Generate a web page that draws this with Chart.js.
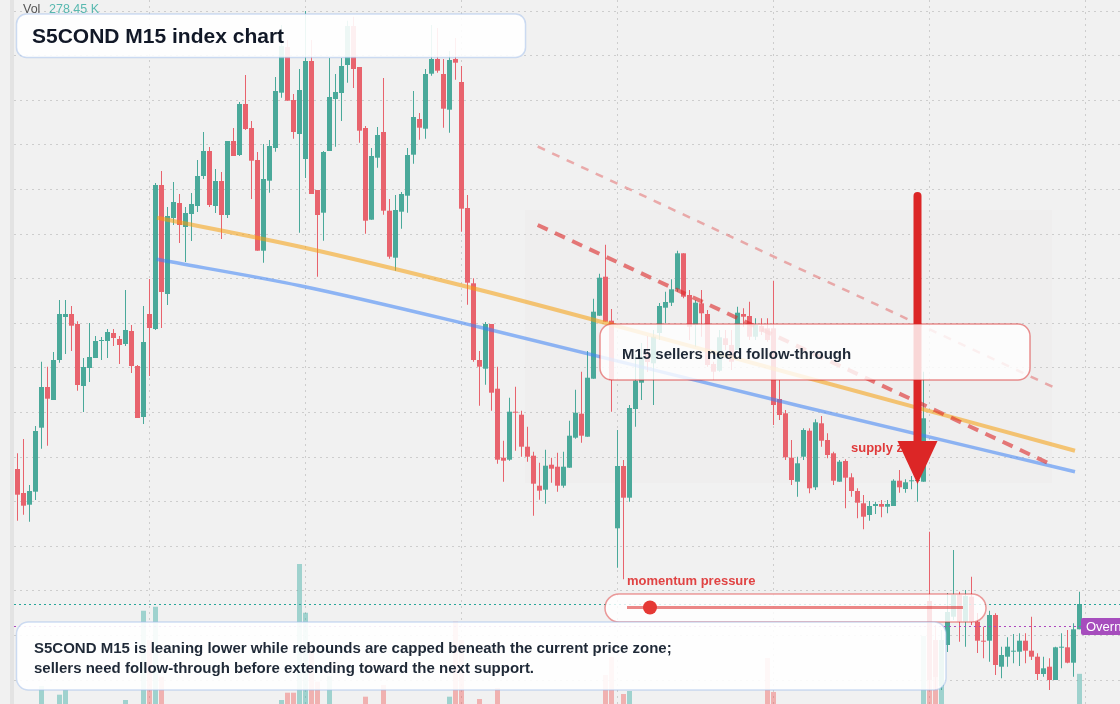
<!DOCTYPE html>
<html>
<head>
<meta charset="utf-8">
<title>S5COND M15 index chart</title>
<script src="https://cdn.jsdelivr.net/npm/chart.js@4/dist/chart.umd.min.js"></script>
<style>
  html, body { margin: 0; padding: 0; background: #f1f1f1; }
  #wrap { width: 1120px; height: 704px; }
</style>
</head>
<body>
<div id="wrap"><canvas id="chart" width="1120" height="704"></canvas></div>
<script>
/**
 * S5COND M15 - candles, volume and annotations drawn with Chart.js
 */

// ---- data (one entry per 15 minute candle) ----
const opens = [
    531, 507, 495.3, 508.3, 572.3, 613, 600, 640, 683, 686,
    676, 614, 632, 642, 659, 659, 667, 661, 656, 669,
    634, 583, 686, 671, 815, 706, 782, 797, 773, 786,
    794, 824, 849, 794, 819, 785, 859, 845, 896, 872,
    840, 749.3, 819.3, 852, 907.3, 953, 900, 866, 841, 939,
    810, 787.3, 849, 901, 907, 935, 974, 933, 872, 780.3,
    842.3, 868, 789.3, 742.3, 788.3, 804.3, 845.3, 881, 871.3, 926.3,
    941, 926, 890.3, 941, 918, 792, 716.7, 640, 631.3, 676,
    611.3, 542.3, 540.3, 588.3, 585.3, 553.3, 544.3, 514.3, 510.3, 535.3,
    533.3, 514.3, 532.3, 562.3, 586.3, 563.3, 621.3, 684.3, 723.3, 679.3,
    471.7, 534, 502.3, 591, 617.3, 648, 636.7, 667, 692.3, 697.3,
    710.7, 746.7, 705, 675, 696.7, 686, 636, 629.3, 661.7, 655,
    650, 686, 684, 663.3, 674, 671.7, 671.7, 601, 586.7, 542.3,
    518.3, 543.3, 569.3, 512.7, 576.7, 560, 546.7, 518.3, 539, 522.7,
    509, 496.7, 485, 494, 496, 493.3, 494, 519.3, 511, 518.7,
    519, 518.3, 399, 360, 314, 355, 383.3, 405, 378.3, 403.3,
    378.3, 359.3, 359.3, 385, 333.3, 343.3, 348.3, 348.3, 359.3, 349.3,
    343.3, 326, 333.3, 320, 352.3, 352.7, 337.3, 370.7
];
const highs = [
    546.7, 561, 515, 574, 638.3, 633.3, 648, 700, 700, 694,
    678.7, 642, 677, 664, 663, 671, 671, 664, 710, 675,
    635, 694, 721, 817, 829, 793, 818, 806, 793, 807,
    840, 868, 853, 831, 828, 859, 872, 898, 925, 879,
    848, 856, 860, 923, 975, 960, 906, 931, 989, 960,
    810, 849, 942, 926, 942, 979.3, 983.3, 933, 874, 852,
    873, 922, 801, 805, 808, 852, 909, 887, 931, 975,
    972, 941, 949, 962, 934, 805, 721.7, 649, 678, 676,
    633.3, 559.3, 602.3, 613.3, 589.3, 573.3, 548.3, 537.3, 550.3, 542.3,
    547.3, 548.3, 579.3, 610.3, 628.3, 649, 701.3, 726.3, 755.3, 691,
    570, 540, 595, 646, 657, 664, 670, 697, 708.3, 720.7,
    749.3, 746.7, 710, 700, 710, 690, 638.3, 670, 670, 670,
    693.3, 691.7, 698.3, 681.7, 681.7, 681.7, 719.3, 620, 590, 560,
    543.3, 571.7, 571.7, 580.7, 584, 566.7, 548.3, 540, 540.7, 526.7,
    511.7, 505, 499, 498.3, 500, 500, 520.7, 530, 520.7, 524,
    524, 628.3, 468.3, 375, 370, 407, 450, 408.3, 410, 423.3,
    387, 373.3, 389.3, 386.7, 353.3, 362.7, 366, 366.7, 366.7, 383.3,
    346.7, 343.3, 341.7, 353.3, 366.7, 370, 376.7, 408.3
];
const lows = [
    479.3, 485.3, 478.3, 500, 551.3, 554.3, 600, 637.3, 646, 649,
    609.3, 588, 618, 642, 640, 642, 654, 636, 654, 627,
    582, 576, 624, 670, 672, 695, 775, 757, 738, 759,
    788, 821, 793, 787, 761, 782, 844, 844, 870, 801,
    749.3, 737.3, 807.3, 848.3, 902.3, 899.3, 861.3, 767.3, 822, 806,
    723.3, 759.3, 849, 853.3, 879, 917.3, 912, 857.3, 766.3, 780.3,
    832.3, 785.3, 741.3, 729.3, 771.3, 787.3, 836.3, 860.3, 861.3, 924.3,
    927.3, 872.3, 867.3, 920.3, 768.3, 695.3, 638.3, 594.3, 615.3, 589.3,
    536.3, 518.3, 539.3, 549.3, 543.3, 538.3, 484.3, 500.3, 496.3, 517.3,
    508.3, 512.3, 532.3, 561.3, 557.3, 563.3, 621.3, 684.3, 678.3, 588.3,
    432.3, 420.7, 498.3, 573.3, 600, 628, 595, 660, 676.7, 694,
    708.3, 701.7, 660, 653.3, 663.3, 633.3, 620, 628.3, 650, 630,
    650, 673.3, 660, 660, 665, 658.3, 575, 580, 540, 515,
    503.3, 540, 506.7, 510, 553.3, 541.7, 515, 518.3, 491.7, 503.3,
    481.7, 470.7, 479.3, 486, 482.7, 486.7, 494, 507.3, 507.3, 510.7,
    498.3, 518.3, 310, 310, 310, 348, 380, 358.3, 353.3, 375,
    347, 341.7, 338.3, 325, 321.7, 333.3, 336.7, 334, 336.7, 340,
    320, 323.3, 310, 320, 331.7, 336.7, 323.3, 370.7
];
const closes = [
    505.3, 494.3, 509, 569, 613, 601.3, 640, 686, 686, 674.3,
    615, 633, 643, 659, 660, 668, 662, 655, 670, 634,
    582, 658, 672, 815, 708, 784, 798, 775, 787, 796,
    824, 849, 795, 819, 785, 859, 844, 896, 871, 839.3,
    749.3, 821, 854, 909, 954, 899.3, 868, 910, 939, 806,
    785, 848, 903, 908, 934, 974, 931, 869.3, 779.3, 844,
    865, 789.3, 743.3, 790, 806, 845, 883, 872.3, 926, 941,
    929.3, 891.3, 940, 937.3, 791.3, 717.3, 640, 633.3, 676, 607.3,
    540.3, 539.3, 588.3, 587.3, 553.3, 543.3, 516.3, 509.3, 534.3, 531.3,
    514.3, 533.3, 564.3, 587.3, 564.3, 622.3, 688.3, 722.3, 678.3, 620,
    534, 502.3, 592, 619.3, 643.3, 638, 663.3, 694, 698, 710.7,
    746.7, 703.3, 673.3, 697.3, 686.7, 635, 628.3, 662.7, 655, 638.3,
    687.3, 683.3, 663.3, 675, 668.3, 660, 595, 585, 542.7, 520,
    536.7, 570, 511.7, 577.7, 559.3, 545, 519.3, 538.3, 522.3, 509,
    497.3, 483.3, 494, 496, 493.3, 496, 519.3, 512.7, 517.7, 519.3,
    519.5, 581.7, 320, 323, 360, 388, 405, 378.3, 404, 378.3,
    359.3, 358.3, 385, 335, 345, 353.3, 349.3, 359.3, 349.3, 343.3,
    326, 331.7, 320, 352.7, 353.3, 337.3, 370.7, 396
];
// volume in thousands
const volumes = [
    182, 165, 148, 190, 246.8, 171, 158, 224.2, 236.4, 140,
    176, 132, 118, 96, 88, 104, 92, 110, 210.4, 126,
    185, 442.6, 366.4, 453, 271, 178, 150, 134, 122, 141,
    160, 155, 147, 128, 136, 172, 119, 163, 180, 152,
    188, 174, 139, 166, 210.4, 229.4, 229.4, 564, 437.4, 340.4,
    258, 161, 272.8, 129, 117, 150, 168, 176, 219, 143,
    121, 249.4, 186, 170, 131, 144, 159, 112, 137, 162,
    154, 173, 219, 414, 366.4, 189, 196, 213, 178, 184,
    241.6, 133, 146, 108, 127, 115, 158, 101, 124, 97,
    113, 106, 142, 138, 151, 167, 181, 175, 275.4, 322.2,
    194, 226, 233.8, 169, 148, 121, 134, 157, 145, 139,
    163, 171, 153, 126, 118, 177, 109, 123, 98, 131,
    140, 102, 128, 94, 111, 319.6, 231.2, 187, 164, 179,
    135, 149, 170, 156, 143, 125, 160, 114, 166, 137,
    148, 172, 119, 86, 92, 81, 153, 107, 99, 90,
    112, 376.8, 467.8, 366.4, 340, 193, 185, 162, 174, 188,
    168, 141, 159, 183, 130, 122, 105, 118, 127, 150,
    161, 109, 145, 166, 97, 138, 176, 278.45
];

// grid ticks
const priceTicks = [989, 944.4, 899.8, 855.2, 810.6, 766, 721.4, 676.8, 632.2, 587.6, 543, 498.4, 453.8, 409.2, 364.6, 320];
const timeTicks = [22, 48, 74, 100, 126, 152, 178];

// drawn studies: [candle index, price]
const trendOrange = [[23.25, 782.3], [47.1, 753.3], [77.1, 710], [98.2, 676.7], [123.75, 635], [176.25, 549.3]];
const trendBlue = [[23.2, 740.7], [47.1, 714.3], [77.1, 672.7], [130.4, 594], [176.25, 528.3]];
const sellerLine = [[86.7, 775], [172.5, 535]];
const upperLine = [[86.7, 853.5], [172.5, 613.3]];
const supplyZoneIdx = [84.6, 172.4];
const supplyZonePrice = [517, 790];
const arrowIdx = 150;
const arrowPrice = [804, 516];
const overnightLevel = 374;

const FONT = '"Liberation Sans", Arial, sans-serif';
const upColor = '#4aa99a';
const downColor = '#e8636d';

const idx = opens.map((_, i) => i);
const isUp = idx.map(i => closes[i] >= opens[i]);
const candleColors = idx.map(i => isUp[i] ? upColor : downColor);
const volColors = idx.map(i => isUp[i] ? 'rgba(38,166,154,0.4)' : 'rgba(239,83,80,0.4)');
const lastClose = closes[closes.length - 1];
const volumeLabel = volumes[volumes.length - 1].toFixed(2) + ' K';

function toPoints(arr) {
    return arr.map(p => ({ x: p[0], y: p[1] }));
}

function roundRect(ctx, x, y, w, h, r) {
    ctx.beginPath();
    ctx.moveTo(x + r, y);
    ctx.arcTo(x + w, y, x + w, y + h, r);
    ctx.arcTo(x + w, y + h, x, y + h, r);
    ctx.arcTo(x, y + h, x, y, r);
    ctx.arcTo(x, y, x + w, y, r);
    ctx.closePath();
}

function drawBox(ctx, x, y, w, h, r, fill, stroke) {
    roundRect(ctx, x, y, w, h, r);
    ctx.fillStyle = fill;
    ctx.fill();
    ctx.lineWidth = 1.5;
    ctx.strokeStyle = stroke;
    ctx.stroke();
}

// page background and the thin left strip
const backdropPlugin = {
    id: 'backdrop',
    beforeDraw(chart) {
        const ctx = chart.ctx;
        ctx.save();
        ctx.fillStyle = '#f1f1f1';
        ctx.fillRect(0, 0, chart.width, chart.height);
        ctx.fillStyle = '#e3e3e3';
        ctx.fillRect(10, 0, 4, chart.height);
        ctx.restore();
    },
    beforeDatasetsDraw(chart) {
        const { ctx, scales: { x, y } } = chart;
        const x0 = x.getPixelForValue(supplyZoneIdx[0]);
        const x1 = x.getPixelForValue(supplyZoneIdx[1]);
        const y0 = y.getPixelForValue(supplyZonePrice[1]);
        const y1 = y.getPixelForValue(supplyZonePrice[0]);
        ctx.save();
        ctx.fillStyle = 'rgba(200,180,180,0.035)';
        ctx.fillRect(x0, y0, x1 - x0, y1 - y0);
        ctx.restore();
    }
};

// price lines, labels, arrow and text boxes
const overlayPlugin = {
    id: 'overlay',
    afterDatasetsDraw(chart) {
        const { ctx, scales: { x, y } } = chart;
        ctx.save();

        // last price line
        const yLast = Math.round(y.getPixelForValue(lastClose)) + 0.5;
        ctx.lineWidth = 1;
        ctx.setLineDash([2, 3]);
        ctx.strokeStyle = '#26a69a';
        ctx.beginPath();
        ctx.moveTo(14, yLast);
        ctx.lineTo(chart.width, yLast);
        ctx.stroke();

        // overnight line
        const yOn = Math.round(y.getPixelForValue(overnightLevel)) + 0.5;
        ctx.strokeStyle = '#ab47bc';
        ctx.beginPath();
        ctx.moveTo(14, yOn);
        ctx.lineTo(1082, yOn);
        ctx.stroke();
        ctx.setLineDash([]);

        // supply zone label
        ctx.font = 'bold 13px ' + FONT;
        ctx.fillStyle = '#e03a3a';
        ctx.fillText('supply zone', 851, 452);

        // arrow
        const ax = x.getPixelForValue(arrowIdx);
        const aTop = y.getPixelForValue(arrowPrice[0]);
        const aTip = y.getPixelForValue(arrowPrice[1]);
        ctx.strokeStyle = '#dc2626';
        ctx.fillStyle = '#dc2626';
        ctx.lineWidth = 8;
        ctx.lineCap = 'round';
        ctx.beginPath();
        ctx.moveTo(ax, aTop);
        ctx.lineTo(ax, aTip - 40);
        ctx.stroke();
        ctx.lineCap = 'butt';
        ctx.beginPath();
        ctx.moveTo(ax - 20, aTip - 43);
        ctx.lineTo(ax + 20, aTip - 43);
        ctx.lineTo(ax, aTip);
        ctx.closePath();
        ctx.fill();

        // callout
        drawBox(ctx, 600, 324, 430, 56, 12, 'rgba(255,255,255,0.82)', 'rgba(220,38,38,0.5)');
        ctx.font = 'bold 15px ' + FONT;
        ctx.fillStyle = '#1f2937';
        ctx.fillText('M15 sellers need follow-through', 622, 359);

        // momentum gauge
        ctx.font = 'bold 13px ' + FONT;
        ctx.fillStyle = '#e04343';
        ctx.fillText('momentum pressure', 627, 585);
        drawBox(ctx, 605, 594, 381, 28, 14, 'rgba(255,255,255,0.82)', 'rgba(220,38,38,0.45)');
        ctx.strokeStyle = 'rgba(220,38,38,0.55)';
        ctx.lineWidth = 3;
        ctx.beginPath();
        ctx.moveTo(627, 607.5);
        ctx.lineTo(963, 607.5);
        ctx.stroke();
        ctx.fillStyle = '#e53935';
        ctx.beginPath();
        ctx.arc(650, 607.5, 7, 0, Math.PI * 2);
        ctx.fill();

        // title
        drawBox(ctx, 16.5, 14, 509, 43.5, 10, 'rgba(255,255,255,0.9)', 'rgba(160,190,235,0.5)');
        ctx.font = 'bold 21px ' + FONT;
        ctx.fillStyle = '#111827';
        ctx.fillText('S5COND M15 index chart', 32, 43);

        // summary
        drawBox(ctx, 16.5, 622, 929.5, 68, 12, 'rgba(255,255,255,0.9)', 'rgba(160,190,235,0.5)');
        ctx.font = 'bold 15px ' + FONT;
        ctx.fillStyle = '#1f2937';
        ctx.fillText('S5COND M15 is leaning lower while rebounds are capped beneath the current price zone;', 34, 653);
        ctx.fillText('sellers need follow-through before extending toward the next support.', 34, 673);

        // volume legend
        ctx.font = '12.5px ' + FONT;
        ctx.fillStyle = '#555555';
        ctx.fillText('Vol', 23, 13);
        ctx.fillStyle = 'rgba(38,166,154,0.75)';
        ctx.fillText(volumeLabel, 49, 13);

        // overnight tag
        ctx.fillStyle = '#a64dbd';
        roundRect(ctx, 1081, 618, 60, 17, 2);
        ctx.fill();
        ctx.font = '13px ' + FONT;
        ctx.fillStyle = '#ffffff';
        ctx.fillText('Overnight', 1086, 631);

        ctx.restore();
    }
};

const gridAxis = {
    display: true,
    offset: false,
    grid: { color: '#cdcdcd', lineWidth: 1, drawTicks: false, offset: false },
    border: { display: false, dash: [2, 4] },
    ticks: { display: false }
};

new Chart(document.getElementById('chart'), {
    type: 'bar',
    data: {
        datasets: [
            {
                type: 'line',
                label: 'upper channel',
                data: toPoints(upperLine),
                borderColor: 'rgba(220,38,38,0.35)',
                borderWidth: 2.5,
                borderDash: [8, 8],
                pointRadius: 0,
                order: 1
            },
            {
                type: 'line',
                label: 'sellers line',
                data: toPoints(sellerLine),
                borderColor: 'rgba(220,38,38,0.6)',
                borderWidth: 4,
                borderDash: [11, 8],
                pointRadius: 0,
                order: 1
            },
            {
                type: 'line',
                label: 'trend blue',
                data: toPoints(trendBlue),
                borderColor: 'rgba(59,130,246,0.55)',
                borderWidth: 3.5,
                cubicInterpolationMode: 'monotone',
                pointRadius: 0,
                order: 2
            },
            {
                type: 'line',
                label: 'trend orange',
                data: toPoints(trendOrange),
                borderColor: 'rgba(245,158,11,0.55)',
                borderWidth: 4,
                cubicInterpolationMode: 'monotone',
                pointRadius: 0,
                order: 2
            },
            {
                label: 'bodies',
                data: idx.map(i => ({ x: i, y: [opens[i], closes[i]] })),
                backgroundColor: candleColors,
                barThickness: 5,
                minBarLength: 1,
                grouped: false,
                inflateAmount: 0,
                order: 3
            },
            {
                label: 'wicks',
                data: idx.map(i => ({ x: i, y: [lows[i], highs[i]] })),
                backgroundColor: candleColors,
                barThickness: 1,
                grouped: false,
                inflateAmount: 0,
                order: 4
            },
            {
                label: 'volume',
                data: idx.map(i => ({ x: i, y: volumes[i] })),
                backgroundColor: volColors,
                barThickness: 5,
                grouped: false,
                inflateAmount: 0,
                yAxisID: 'yv',
                order: 5
            }
        ]
    },
    options: {
        responsive: false,
        animation: false,
        devicePixelRatio: 1,
        events: [],
        layout: { padding: { left: 14, right: 0, top: 0, bottom: 0 } },
        plugins: {
            legend: { display: false },
            tooltip: { enabled: false }
        },
        scales: {
            x: Object.assign({}, gridAxis, {
                type: 'linear',
                min: -0.5833,
                max: 183.75,
                afterBuildTicks: axis => { axis.ticks = timeTicks.map(v => ({ value: v })); }
            }),
            y: Object.assign({}, gridAxis, {
                type: 'linear',
                position: 'left',
                min: 296,
                max: 1000,
                afterBuildTicks: axis => { axis.ticks = priceTicks.map(v => ({ value: v })); }
            }),
            yv: {
                type: 'linear',
                display: false,
                min: 200,
                max: 2030
            }
        }
    },
    plugins: [backdropPlugin, overlayPlugin]
});
</script>
</body>
</html>
